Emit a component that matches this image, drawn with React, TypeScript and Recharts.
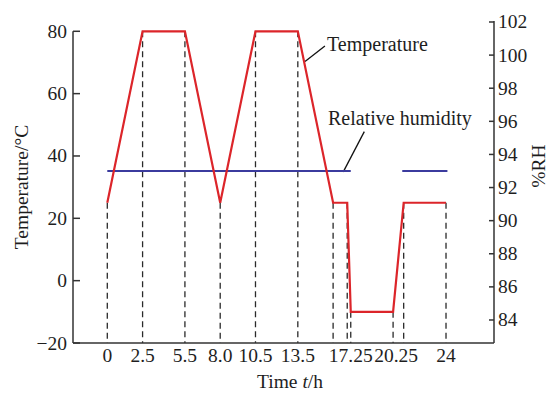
import { LineChart, Line, XAxis, YAxis, ReferenceLine } from 'recharts';

const timeH = [0, 2.5, 5.5, 8, 10.5, 13.5, 16, 17, 17.25, 20.25, 21, 24];
const temperature = [25, 80, 80, 25, 80, 80, 25, 25, -10, -10, 25, 25];
const rhTime = [0, 17.25, 19, 20.9, 24.1];
const rhValue = [93, 93, null, 93, 93];
const timeTicks = [0, 2.5, 5.5, 8, 10.5, 13.5, 17.25, 20.25, 24];
const tempTicks = [-20, 0, 20, 40, 60, 80];
const rhTicks = [84, 86, 88, 90, 92, 94, 96, 98, 100, 102];

const tempData = timeH.map((t, i) => ({ t, temp: temperature[i] }));
const rhData = rhTime.map((t, i) => ({ t, rh: rhValue[i] }));

const FONT = "'Liberation Serif', 'Times New Roman', serif";
const INK = '#1e1e1e';
const AXIS = '#333';
const RED = '#dc252a';
const BLUE = '#3b3b9e';

const X_DOMAIN = [-2.43, 27.4];

const LeftTick = (props: any) => {
  const { x, y, payload } = props;
  const v = payload.value < 0 ? '\u2212' + Math.abs(payload.value) : String(payload.value);
  return (
    <g>
      <line x1={x} y1={y} x2={x + 7} y2={y} stroke={AXIS} strokeWidth={1.5} />
      <text x={x - 6} y={y + 6.5} textAnchor="end" fontFamily={FONT} fontSize={19.5} fill={INK}>
        {v}
      </text>
    </g>
  );
};

const RightTick = (props: any) => {
  const { x, y, payload } = props;
  return (
    <g>
      <line x1={x - 5} y1={y} x2={x} y2={y} stroke={AXIS} strokeWidth={1.5} />
      <text x={x + 4} y={y + 6.5} textAnchor="start" fontFamily={FONT} fontSize={19.5} fill={INK}>
        {payload.value}
      </text>
    </g>
  );
};

const BottomTick = (props: any) => {
  const { x, y, payload } = props;
  const label = payload.value === 8 ? '8.0' : String(payload.value);
  // the 20.25 label sits a little right of its line in the original
  const dx = payload.value === 20.25 ? 3 : 0;
  return (
    <text x={x + dx} y={y + 19} textAnchor="middle" fontFamily={FONT} fontSize={19.5} fill={INK}>
      {label}
    </text>
  );
};

export default function App() {
  return (
    <div style={{ position: 'absolute', left: 0, top: 0, width: 552, height: 394, background: '#fff' }}>
      <LineChart width={552} height={394} margin={{ top: 21, right: 0, bottom: 0, left: 0 }}>
        <XAxis
          dataKey="t"
          type="number"
          domain={X_DOMAIN}
          allowDataOverflow
          ticks={timeTicks}
          interval={0}
          height={51}
          tickSize={0}
          tickMargin={0}
          tickLine={false}
          tick={<BottomTick />}
          axisLine={{ stroke: AXIS, strokeWidth: 1.5 }}
          label={{
            content: () => (
              <text x={290} y={388} textAnchor="middle" fontFamily={FONT} fontSize={19.5} fill={INK}>
                Time <tspan fontStyle="italic">t</tspan>/h
              </text>
            ),
          }}
        />
        <YAxis
          yAxisId="left"
          orientation="left"
          width={73}
          domain={[-20, 83.3]}
          allowDataOverflow
          ticks={tempTicks}
          interval={0}
          tickSize={0}
          tickMargin={0}
          tickLine={false}
          axisLine={false}
          tick={<LeftTick />}
          label={{
            content: () => (
              <text
                x={28}
                y={187}
                transform="rotate(-90 28 187)"
                textAnchor="middle"
                fontFamily={FONT}
                fontSize={19.5}
                fill={INK}
              >
                Temperature/°C
              </text>
            ),
          }}
        />
        <YAxis
          yAxisId="right"
          orientation="right"
          width={58}
          domain={[82.61, 102.06]}
          allowDataOverflow
          ticks={rhTicks}
          interval={0}
          tickSize={0}
          tickMargin={0}
          tickLine={false}
          axisLine={{ stroke: AXIS, strokeWidth: 1.5 }}
          tick={<RightTick />}
          label={{
            content: () => (
              <text
                x={545}
                y={166}
                transform="rotate(-90 545 166)"
                textAnchor="middle"
                fontFamily={FONT}
                fontSize={19.5}
                fill={INK}
              >
                %RH
              </text>
            ),
          }}
        />

        {/* left axis line only spans -20..80 */}
        <ReferenceLine
          yAxisId="left"
          segment={[{ x: X_DOMAIN[0], y: 80 }, { x: X_DOMAIN[0], y: -20 }]}
          stroke={AXIS}
          strokeWidth={1.5}
          ifOverflow="visible"
        />

        {tempData.map((d) => (
          <ReferenceLine
            key={'v' + d.t}
            yAxisId="left"
            segment={[{ x: d.t, y: d.temp }, { x: d.t, y: -20 }]}
            stroke="#2a2a2a"
            strokeWidth={1.3}
            strokeDasharray="6 4"
          />
        ))}

        {/* leader lines for the annotations */}
        <ReferenceLine
          yAxisId="left"
          segment={[{ x: 14.01, y: 70.3 }, { x: 15.42, y: 75.3 }]}
          stroke="#111"
          strokeWidth={1.3}
        />
        <ReferenceLine
          yAxisId="left"
          segment={[{ x: 16.72, y: 34.9 }, { x: 18.21, y: 47.8 }]}
          stroke="#111"
          strokeWidth={1.3}
        />

        <Line
          yAxisId="right"
          data={rhData}
          dataKey="rh"
          type="linear"
          stroke={BLUE}
          strokeWidth={2.2}
          dot={false}
          connectNulls={false}
          isAnimationActive={false}
        />
        <Line
          yAxisId="left"
          data={tempData}
          dataKey="temp"
          type="linear"
          stroke={RED}
          strokeWidth={2.2}
          dot={false}
          isAnimationActive={false}
        />
      </LineChart>
      <svg
        width={552}
        height={394}
        style={{ position: 'absolute', left: 0, top: 0, pointerEvents: 'none' }}
      >
        <text x={327} y={51} fontFamily={FONT} fontSize={20} fill={INK}>
          Temperature
        </text>
        <text x={328} y={125} fontFamily={FONT} fontSize={20} fill={INK}>
          Relative humidity
        </text>
      </svg>
    </div>
  );
}
